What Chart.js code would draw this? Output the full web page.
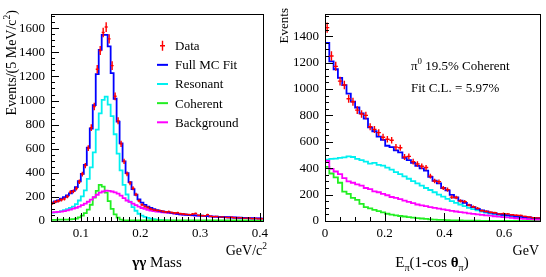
<!DOCTYPE html>
<html>
<head>
<meta charset="utf-8">
<script src="https://cdn.jsdelivr.net/npm/chart.js@4.4.1/dist/chart.umd.min.js"></script>
<style>
  html, body { margin: 0; padding: 0; background: #fff; }
  #wrap { position: relative; width: 546px; height: 277px; }
  #massChart { position: absolute; left: 0; top: 0; }
  #ptChart { position: absolute; left: 273px; top: 0; }
</style>
</head>
<body>
<div id="wrap">
  <canvas id="massChart" width="273" height="277"></canvas>
  <canvas id="ptChart" width="273" height="277"></canvas>
</div>
<script>
// ---- left panel: gamma gamma mass, 5 MeV bins from 0.05 GeV ----
const massBinLow = 0.05;
const massBinWidth = 0.005;
const massData = [148, 160, 166, 176, 184, 204, 240, 246, 270, 326, 390, 460, 605, 775, 950, 1260, 1415, 1565, 1610, 1512,
  1290, 1035, 832, 640, 495, 392, 315, 272, 220, 168, 135, 120, 112, 100, 92, 88, 86, 80, 75, 78,
  70, 66, 68, 60, 58, 55, 52, 58, 62, 48, 45, 44, 52, 40, 36, 38, 32, 34, 30, 28,
  31, 27, 26, 28, 22, 24, 25, 20, 22, 18, 19];
const massFit = [152, 162, 172, 185, 198, 212, 230, 250, 282, 330, 392, 465, 608, 768, 962, 1220, 1420, 1545, 1545, 1450,
  1228, 1015, 825, 645, 495, 398, 322, 265, 218, 180, 152, 134, 120, 108, 98, 90, 84, 79, 75, 71,
  67, 63, 59, 56, 54, 52, 50, 48, 46, 45, 44, 42, 41, 39, 37, 36, 34, 33, 32, 31,
  30, 29, 28, 27, 26, 25, 24, 23, 22, 22, 21];
const massResonant = [70, 72, 76, 82, 90, 98, 108, 120, 140, 170, 205, 255, 350, 445, 570, 758, 894, 1006, 1032, 966,
  870, 720, 560, 420, 300, 220, 160, 115, 85, 60, 45, 35, 26, 20, 15, 11, 8, 6, 4, 3,
  2, 1, 0, 0, 0, 0, 0, 0, 0, 0, 0, 0, 0, 0, 0, 0, 0, 0, 0, 0,
  0, 0, 0, 0, 0, 0, 0, 0, 0, 0, 0];
const massCoherent = [10, 10, 11, 11, 12, 12, 13, 15, 20, 30, 45, 65, 95, 135, 195, 250, 300, 285, 235, 165,
  100, 55, 28, 12, 6, 4, 4, 4, 4, 4, 4, 4, 4, 4, 4, 4, 4, 4, 4, 4,
  4, 4, 4, 4, 4, 4, 4, 4, 4, 4, 4, 4, 4, 4, 4, 4, 4, 4, 4, 4,
  4, 4, 4, 4, 4, 4, 4, 4, 4, 4, 4];
const massBackground = [72, 74, 76, 78, 82, 88, 95, 102, 110, 120, 132, 145, 160, 178, 198, 218, 235, 245, 252, 250,
  245, 238, 228, 210, 190, 170, 158, 145, 132, 120, 108, 100, 93, 86, 82, 78, 75, 72, 70, 68,
  65, 62, 58, 55, 53, 51, 49, 47, 45, 44, 43, 42, 40, 38, 36, 35, 33, 32, 31, 30,
  29, 28, 27, 26, 25, 24, 23, 22, 21, 21, 20];
const massTickValues = [0.1, 0.2, 0.3, 0.4];
const massTickLabels = ['0.1', '0.2', '0.3', '0.4'];
const massCountTicks = [0, 200, 400, 600, 800, 1000, 1200, 1400, 1600];

// ---- right panel: E_pi (1 - cos theta_pi) ----
const ptBinLow = 0;
const ptBinWidth = 0.0144;
const ptData = [1465, 1250, 1172, 1060, 1031, 926, 904, 840, 811, 800, 714, 694, 670, 635, 620, 612, 560, 555, 485, 490,
  450, 432, 415, 405, 340, 303, 298, 250, 238, 181, 178, 152, 147, 120, 108, 96, 78, 73, 66, 62,
  54, 56, 54, 47, 44, 42, 35, 30, 25, 24];
const ptFit = [1350, 1210, 1150, 1085, 1030, 965, 905, 860, 815, 775, 710, 680, 640, 615, 570, 560, 535, 520, 478, 462,
  440, 418, 398, 382, 335, 305, 285, 250, 232, 198, 178, 155, 138, 120, 105, 92, 80, 72, 64, 58,
  52, 47, 44, 40, 36, 33, 30, 27, 24, 22];
const ptResonant = [465, 470, 472, 478, 482, 490, 485, 470, 462, 450, 435, 440, 425, 420, 405, 390, 370, 355, 338, 320,
  302, 285, 268, 250, 235, 218, 200, 185, 168, 150, 138, 125, 112, 100, 90, 80, 71, 63, 56, 50,
  45, 41, 37, 34, 31, 28, 25, 22, 20, 18];
const ptCoherent = [410, 360, 330, 290, 222, 205, 175, 160, 130, 105, 95, 85, 75, 65, 55, 48, 42, 38, 34, 30,
  26, 22, 19, 16, 13, 11, 9, 8, 6, 5, 4, 4, 3, 3, 2, 2, 1, 1, 1, 1,
  0, 0, 0, 0, 0, 0, 0, 0, 0, 0];
const ptBackground = [455, 395, 375, 355, 325, 300, 290, 278, 268, 250, 242, 225, 218, 205, 195, 182, 175, 165, 155, 145,
  135, 125, 118, 112, 105, 99, 94, 88, 82, 77, 72, 67, 63, 58, 54, 50, 47, 43, 40, 36,
  33, 30, 27, 24, 21, 19, 16, 14, 12, 10];
const ptTickValues = [0, 0.2, 0.4, 0.6];
const ptTickLabels = ['0', '0.2', '0.4', '0.6'];
const ptCountTicks = [0, 200, 400, 600, 800, 1000, 1200, 1400];

const legendLabels = ['Data', 'Full MC Fit', 'Resonant', 'Coherent', 'Background'];

const FONT = "'Liberation Serif', 'DejaVu Serif', serif";
const RED = '#ff0000', BLUE = '#0000ff', CYAN = '#00f0f0', GREEN = '#22ee22', MAGENTA = '#ff00ff';

function histPoints(values, low, width) {
  const pts = values.map((v, i) => ({ x: low + i * width, y: v }));
  pts.push({ x: low + values.length * width, y: values[values.length - 1] });
  return pts;
}

function centerPoints(values, low, width) {
  return values.map((v, i) => ({ x: low + (i + 0.5) * width, y: v }));
}

// draw text made of pieces (normal / sup / sub), x is the start
function richWidth(ctx, parts, size) {
  let w = 0;
  parts.forEach((p) => {
    const s = p.sup || p.sub ? size * 0.68 : size;
    ctx.font = (p.bold ? 'bold ' : '') + s + 'px ' + FONT;
    w += ctx.measureText(p.t).width;
  });
  return w;
}

function richText(ctx, parts, x, y, size, align) {
  const w = richWidth(ctx, parts, size);
  if (align === 'right') x -= w;
  if (align === 'center') x -= w / 2;
  parts.forEach((p) => {
    const s = p.sup || p.sub ? size * 0.68 : size;
    ctx.font = (p.bold ? 'bold ' : '') + s + 'px ' + FONT;
    const dy = p.sup ? -size * 0.42 : p.sub ? size * 0.28 : 0;
    ctx.fillText(p.t, x, y + dy);
    x += ctx.measureText(p.t).width;
  });
}

function drawTicks(ctx, scale, area, minor, major, horizontal) {
  const n0 = Math.ceil(scale.min / minor - 1e-6);
  const n1 = Math.floor(scale.max / minor + 1e-6);
  for (let n = n0; n <= n1; n++) {
    const v = n * minor;
    const isMajor = Math.abs(v / major - Math.round(v / major)) < 1e-6;
    const len = isMajor ? 8 : 4;
    const p = Math.round(scale.getPixelForValue(v)) + 0.5;
    if (horizontal) {
      ctx.moveTo(p, area.bottom);
      ctx.lineTo(p, area.bottom - len);
    } else {
      ctx.moveTo(area.left, p);
      ctx.lineTo(area.left + len, p);
    }
  }
}

const rootPad = {
  id: 'rootPad',
  afterDatasetsDraw(chart) {
    const ctx = chart.ctx;
    const xs = chart.scales.x, ys = chart.scales.y;
    chart.data.datasets.forEach((ds, i) => {
      if (!ds.errorBars) return;
      const meta = chart.getDatasetMeta(i);
      ctx.save();
      ctx.strokeStyle = RED;
      ctx.lineWidth = 1.4;
      ctx.beginPath();
      ds.data.forEach((p, j) => {
        const el = meta.data[j];
        const xl = xs.getPixelForValue(p.x - ds.binWidth / 2);
        const xr = xs.getPixelForValue(p.x + ds.binWidth / 2);
        const err = Math.sqrt(p.y);
        ctx.moveTo(xl, el.y);
        ctx.lineTo(xr, el.y);
        ctx.moveTo(el.x, ys.getPixelForValue(p.y + err));
        ctx.lineTo(el.x, ys.getPixelForValue(p.y - err));
      });
      ctx.stroke();
      ctx.restore();
    });
  },
  afterDraw(chart, args, o) {
    const ctx = chart.ctx;
    const a = chart.chartArea;
    ctx.save();
    ctx.strokeStyle = '#000';
    ctx.lineWidth = 1;
    ctx.beginPath();
    drawTicks(ctx, chart.scales.x, a, o.xMinor, o.xMajor, true);
    drawTicks(ctx, chart.scales.y, a, o.yMinor, o.yMajor, false);
    ctx.stroke();
    ctx.strokeRect(Math.round(a.left) + 0.5, Math.round(a.top) + 0.5,
      Math.round(a.right - a.left), Math.round(a.bottom - a.top));

    ctx.fillStyle = '#000';
    ctx.textBaseline = 'alphabetic';
    // axis unit and title
    richText(ctx, o.unit, o.unitX, o.unitY, 14, 'right');
    richText(ctx, o.xTitle, o.xTitleX, o.xTitleY, 15, 'center');
    // y title, rotated, ending at the top
    ctx.save();
    ctx.translate(o.yTitleX, o.yTitleY);
    ctx.rotate(-Math.PI / 2);
    richText(ctx, o.yTitle, 0, 0, o.yTitleSize, 'right');
    ctx.restore();

    // legend
    if (o.legend) {
      const L = o.legend;
      ctx.textBaseline = 'middle';
      L.items.forEach((it, i) => {
        const y = L.y + i * L.step;
        ctx.strokeStyle = it.color;
        ctx.lineWidth = 2;
        ctx.beginPath();
        if (it.cross) {
          ctx.lineWidth = 1.4;
          ctx.moveTo(L.x + 3, y); ctx.lineTo(L.x + 8, y);
          ctx.moveTo(L.x + 5.5, y - 5); ctx.lineTo(L.x + 5.5, y + 5);
        } else {
          ctx.moveTo(L.x, y); ctx.lineTo(L.x + 11, y);
        }
        ctx.stroke();
        ctx.font = '13px ' + FONT;
        ctx.fillText(it.label, L.x + 18, y + 1);
      });
    }
    // free text lines
    if (o.notes) {
      ctx.textBaseline = 'middle';
      o.notes.forEach((n) => richText(ctx, n.parts, n.x, n.y, 13, 'left'));
    }
    ctx.restore();
  }
};

function makeChart(canvas, cfg) {
  const hist = (vals, color, label) => ({
    label: label,
    data: histPoints(vals, cfg.binLow, cfg.binWidth),
    borderColor: color,
    backgroundColor: color,
    borderWidth: 1.8,
    stepped: true,
    pointRadius: 0,
    fill: false,
  });
  const datasets = [
    {
      label: legendLabels[0],
      data: centerPoints(cfg.data, cfg.binLow, cfg.binWidth),
      showLine: false,
      pointRadius: 0,
      borderColor: RED,
      errorBars: true,
      binWidth: cfg.binWidth,
    },
    hist(cfg.fit, BLUE, legendLabels[1]),
    hist(cfg.background, MAGENTA, legendLabels[4]),
    hist(cfg.coherent, GREEN, legendLabels[3]),
    hist(cfg.resonant, CYAN, legendLabels[2]),
  ];

  return new Chart(canvas, {
    type: 'line',
    data: { datasets: datasets },
    options: {
      responsive: false,
      animation: false,
      devicePixelRatio: 1,
      layout: { padding: { left: 0, top: 6, right: cfg.padRight, bottom: 0 } },
      scales: {
        x: {
          type: 'linear',
          min: cfg.xMin,
          max: cfg.xMax,
          grid: { display: false, drawTicks: false },
          border: { display: false },
          afterBuildTicks: (s) => { s.ticks = cfg.xTicks.map((v) => ({ value: v })); },
          afterFit: (s) => { s.height = 56; },
          ticks: {
            color: '#000',
            padding: 5,
            maxRotation: 0,
            autoSkip: false,
            font: { family: FONT, size: 13 },
            callback: (v, i) => cfg.xLabels[i],
          },
        },
        y: {
          type: 'linear',
          min: 0,
          max: cfg.yMax,
          grid: { display: false, drawTicks: false },
          border: { display: false },
          afterBuildTicks: (s) => { s.ticks = cfg.yTicks.map((v) => ({ value: v })); },
          afterFit: (s) => { s.width = cfg.yWidth; },
          ticks: {
            color: '#000',
            padding: 6,
            autoSkip: false,
            font: { family: FONT, size: 13 },
            callback: (v) => String(v),
          },
        },
      },
      plugins: {
        legend: { display: false },
        tooltip: { enabled: false },
        rootPad: cfg.deco,
      },
    },
    plugins: [rootPad],
  });
}

makeChart(document.getElementById('massChart'), {
  binLow: massBinLow, binWidth: massBinWidth,
  data: massData, fit: massFit, resonant: massResonant, coherent: massCoherent, background: massBackground,
  xMin: 0.05, xMax: 0.405, yMax: 1720,
  xTicks: massTickValues, xLabels: massTickLabels, yTicks: massCountTicks,
  yWidth: 51, padRight: 8,
  deco: {
    xMinor: 0.01, xMajor: 0.1, yMinor: 50, yMajor: 200,
    unit: [{ t: 'GeV/c' }, { t: '2', sup: true }], unitX: 267, unitY: 255,
    xTitle: [{ t: 'γγ', bold: true }, { t: ' Mass' }], xTitleX: 157, xTitleY: 267,
    yTitle: [{ t: 'Events/(5 MeV/c' }, { t: '2', sup: true }, { t: ')' }], yTitleX: 16, yTitleY: 10, yTitleSize: 14,
    legend: {
      x: 157, y: 45.7, step: 19.15,
      items: [
        { label: legendLabels[0], color: RED, cross: true },
        { label: legendLabels[1], color: BLUE },
        { label: legendLabels[2], color: CYAN },
        { label: legendLabels[3], color: GREEN },
        { label: legendLabels[4], color: MAGENTA },
      ],
    },
  },
});

makeChart(document.getElementById('ptChart'), {
  binLow: ptBinLow, binWidth: ptBinWidth,
  data: ptData, fit: ptFit, resonant: ptResonant, coherent: ptCoherent, background: ptBackground,
  xMin: 0, xMax: 0.72, yMax: 1570,
  xTicks: ptTickValues, xLabels: ptTickLabels, yTicks: ptCountTicks,
  yWidth: 52, padRight: 6,
  deco: {
    xMinor: 0.05, xMajor: 0.2, yMinor: 50, yMajor: 200,
    unit: [{ t: 'GeV' }], unitX: 266, unitY: 255,
    xTitle: [{ t: 'E' }, { t: 'π', sub: true }, { t: '(1-cos ' }, { t: 'θ', bold: true }, { t: 'π', sub: true }, { t: ')' }],
    xTitleX: 159, xTitleY: 267,
    yTitle: [{ t: 'Events' }], yTitleX: 15, yTitleY: 8, yTitleSize: 13,
    notes: [
      { parts: [{ t: 'π' }, { t: '0', sup: true }, { t: ' 19.5% Coherent' }], x: 138, y: 67 },
      { parts: [{ t: 'Fit C.L. = 5.97%' }], x: 138, y: 88.5 },
    ],
  },
});
</script>
</body>
</html>
